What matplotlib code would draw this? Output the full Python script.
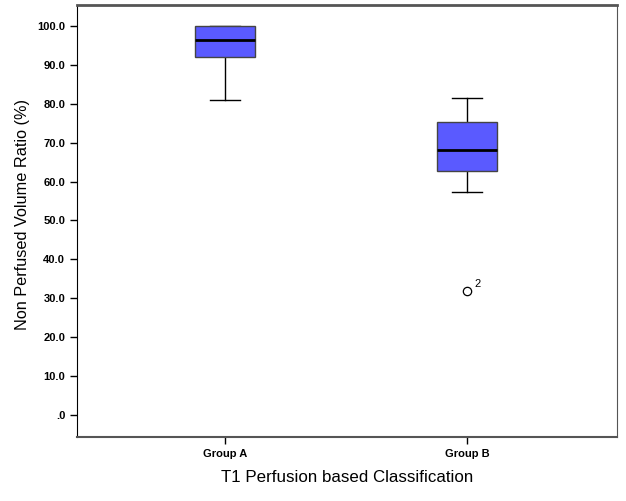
"""
boxplot of non perfused volume ratio by T1 perfusion group
"""
from matplotlib import pyplot as plt

plt.rcParams['font.family'] = ['Liberation Sans', 'DejaVu Sans']

# values
groups = ['Group A', 'Group B']
q1 = [92.1, 62.7]
medians = [96.4, 68.2]
q3 = [100.0, 75.4]
whisker_low = [81.1, 57.4]
whisker_high = [100.0, 81.6]
outliers = [[], [31.9]]
outlier_labels = [[], ['2']]

y_ticks = [0, 10, 20, 30, 40, 50, 60, 70, 80, 90, 100]
y_tick_labels = ['.0', '10.0', '20.0', '30.0', '40.0', '50.0', '60.0', '70.0', '80.0', '90.0', '100.0']

fig = plt.figure(figsize=(6.26, 5.01), dpi=100)
ax = fig.add_axes([0.123, 0.128, 0.863, 0.862])

stats = []
for i, name in enumerate(groups):
    stats.append({
        'label': name,
        'q1': q1[i],
        'med': medians[i],
        'q3': q3[i],
        'whislo': whisker_low[i],
        'whishi': whisker_high[i],
        'fliers': outliers[i],
    })

parts = ax.bxp(
    stats,
    positions=[1, 2],
    widths=0.25,
    patch_artist=True,
    boxprops=dict(facecolor='#5a5aff', edgecolor='#444444', linewidth=1.0),
    medianprops=dict(color='black', linewidth=2.0),
    whiskerprops=dict(color='black', linewidth=1.0),
    capprops=dict(color='black', linewidth=1.0),
    capwidths=0.125,
    flierprops=dict(marker='o', markerfacecolor='white', markeredgecolor='black',
                    markersize=6, markeredgewidth=0.9),
)
# keep caps under the boxes so a cap at q3 is hidden by the box edge
for box in parts['boxes']:
    box.set_zorder(3)
for cap in parts['caps']:
    cap.set_zorder(2)
for med in parts['medians']:
    med.set_zorder(4)

# label the outliers with their case number
for i, labels in enumerate(outlier_labels):
    for value, text in zip(outliers[i], labels):
        ax.annotate(text, xy=(i + 1, value), xytext=(5, 3), textcoords='offset points',
                    fontsize=8)

ax.set_xlim(0.389, 2.62)
ax.set_ylim(-5.65, 105.4)
ax.set_yticks(y_ticks)
ax.set_yticklabels(y_tick_labels, fontsize=8, fontweight='bold')
ax.set_xticks([1, 2])
ax.set_xticklabels(groups, fontsize=8, fontweight='bold')
ax.tick_params(axis='both', direction='out', length=5, width=1)

ax.spines['left'].set_color('black')
for side in ['top', 'bottom', 'right']:
    ax.spines[side].set_color('#555555')
ax.spines['top'].set_linewidth(2)
ax.spines['bottom'].set_linewidth(1.5)

ax.set_ylabel('Non Perfused Volume Ratio (%)', fontsize=11.7, labelpad=5, y=0.514)
ax.set_xlabel('T1 Perfusion based Classification', fontsize=12.2, labelpad=8)

plt.savefig('out.png', dpi=100)
